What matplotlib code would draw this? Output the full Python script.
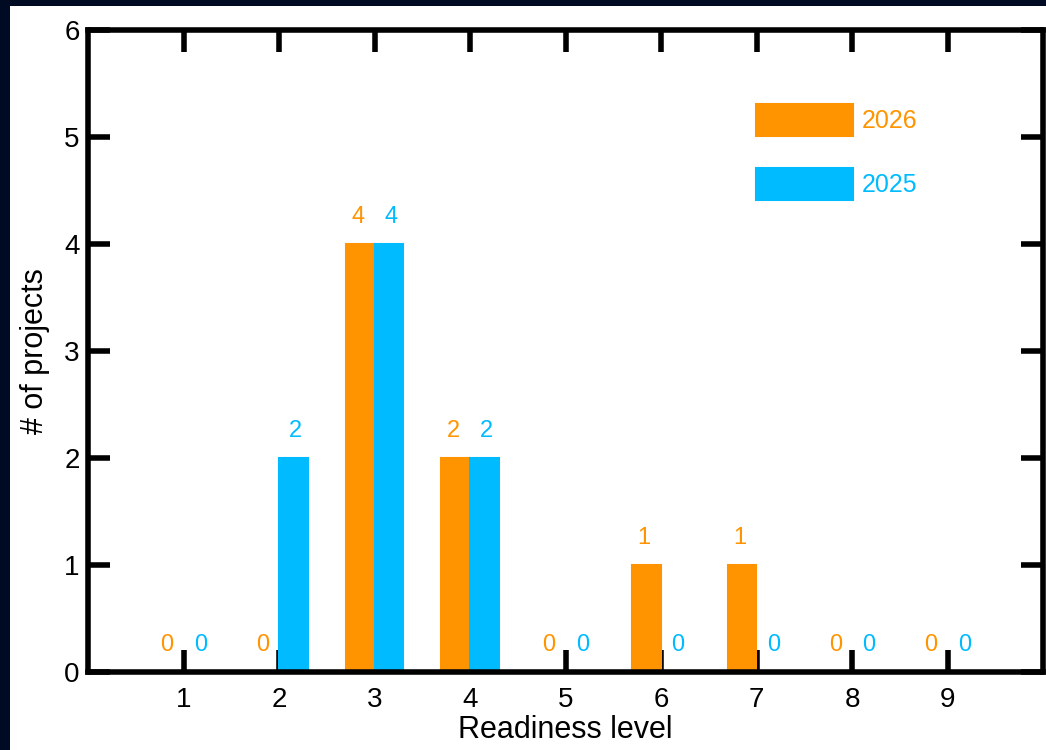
import matplotlib.pyplot as plt
import numpy as np
from matplotlib.patches import Rectangle

plt.rcParams['font.family'] = ['Liberation Sans', 'DejaVu Sans']

levels = [1, 2, 3, 4, 5, 6, 7, 8, 9]
count_2026 = [0, 0, 4, 2, 0, 1, 1, 0, 0]
count_2025 = [0, 2, 4, 2, 0, 0, 0, 0, 0]
series_names = ["2026", "2025"]

orange = "#FF9400"
blue = "#00BBFF"
navy = "#000A22"

fig = plt.figure(figsize=(10.46, 7.5), dpi=100, facecolor=navy)
# white panel sitting on the dark slide background
fig.patches.append(Rectangle((10 / 1046, 0), 1 - 10 / 1046, 1 - 6 / 750,
                             transform=fig.transFigure, facecolor="white",
                             edgecolor="none", zorder=-10))

ax = fig.add_axes([88 / 1046, 1 - 672 / 750, (1043 - 88) / 1046, (672 - 30) / 750])
ax.set_facecolor("white")

x = np.array(levels)
w = 0.3
ax.bar(x - w / 2, count_2026, width=w, color=orange, edgecolor=orange,
       linewidth=1.5, label=series_names[0], zorder=2)
ax.bar(x + w / 2, count_2025, width=w, color=blue, edgecolor=blue,
       linewidth=1.5, label=series_names[1], zorder=2)

# value labels above each bar
for xi, v in zip(x, count_2026):
    ax.text(xi - 0.175, v + 0.2, str(v), color=orange, fontsize=17,
            ha="center", va="baseline")
for xi, v in zip(x, count_2025):
    ax.text(xi + 0.175, v + 0.2, str(v), color=blue, fontsize=17,
            ha="center", va="baseline")

ax.set_xlim(0, 10)
ax.set_ylim(0, 6)
ax.set_xticks(levels)
ax.set_yticks(range(0, 7))
ax.tick_params(direction="in", length=16, width=4, labelsize=20,
               top=True, right=True)
ax.tick_params(axis="x", pad=11)
ax.tick_params(axis="y", pad=6)
for s in ax.spines.values():
    s.set_linewidth(4)
    s.set_zorder(3)

ax.set_xlabel("Readiness level", fontsize=22, labelpad=1)
ax.set_ylabel("# of projects", fontsize=22, labelpad=10)

leg = ax.legend(loc="upper left", bbox_to_anchor=(0.6995, 0.885), frameon=False,
                fontsize=18, handlelength=3.88, handleheight=1.59,
                labelspacing=1.28, handletextpad=0.35, borderpad=0,
                borderaxespad=0)
for t, c in zip(leg.get_texts(), [orange, blue]):
    t.set_color(c)

fig.savefig("out.png", dpi=100, facecolor=navy)
